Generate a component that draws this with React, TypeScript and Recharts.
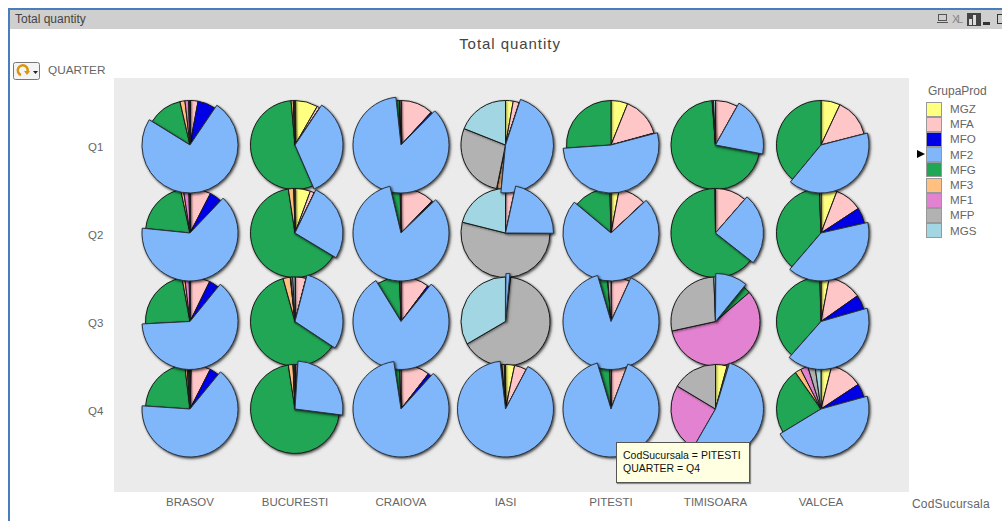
import { PieChart, Pie, Cell } from 'recharts';

const GROUPS = ['MGZ', 'MFA', 'MFO', 'MF2', 'MFG', 'MF3', 'MF1', 'MFP', 'MGS'];
const BRANCHES = ['BRASOV', 'BUCURESTI', 'CRAIOVA', 'IASI', 'PITESTI', 'TIMISOARA', 'VALCEA'];
const QUARTERS = ['Q1', 'Q2', 'Q3', 'Q4'];

// share per quarter, in the same order as GROUPS
const BRASOV = [
  [0.2, 2.7, 6.5, 74, 12.5, 1.8, 1.3, 0.4, 0.1],
  [0.1, 7.5, 4.5, 64.5, 20, 1, 2, 0.3, 0.1],
  [0.1, 7.2, 3.6, 63.5, 23, 1, 1.6, 0.3, 0],
  [0.5, 7, 3.4, 65, 22, 0.8, 0.5, 0.4, 0.2],
];
const BUCURESTI = [
  [8.3, 1, 0.05, 34, 55, 0.8, 0.2, 0.3, 0.1],
  [5.6, 1.5, 0.05, 26.5, 64, 2, 0.1, 0.3, 0],
  [0.2, 3.8, 0.05, 30.3, 61.4, 2.6, 0.2, 0.7, 0.8],
  [0.3, 0.7, 0, 26, 70.5, 1.7, 0.1, 0.5, 0.1],
];
const CRAIOVA = [
  [0.1, 11.7, 0.6, 85.8, 1.2, 0.1, 0, 0.4, 0],
  [0, 12.2, 0.6, 83.3, 3.4, 0, 0, 0.3, 0],
  [0, 10.2, 0.6, 80.3, 8.3, 0.05, 0, 0.4, 0],
  [0, 10.5, 1.2, 85.8, 1.9, 0, 0, 0.5, 0],
];
const IASI = [
  [2.8, 2.2, 0.05, 46.5, 0.05, 1.6, 0.05, 27.8, 19],
  [0.1, 3.3, 0, 21.7, 0, 0, 0, 53.9, 21.1],
  [0.05, 0.1, 0, 1.3, 0.1, 0.1, 0.2, 64.7, 33.4],
  [3.3, 4.4, 0, 90.5, 0.5, 0, 0, 0.9, 0.4],
];
const PITESTI = [
  [6.1, 14.6, 0.2, 53, 26.1, 0, 0, 0, 0],
  [3, 10, 0.1, 73, 13.5, 0, 0, 0.4, 0],
  [0.1, 6.7, 0, 88.5, 3.2, 0.1, 0, 1.2, 0],
  [0.1, 5.6, 0, 89.5, 4.1, 0, 0, 0.5, 0],
];
const TIMISOARA = [
  [0, 8.1, 0, 19.8, 70.6, 0.2, 0, 0.3, 0.7],
  [0, 11.4, 0, 24.2, 64.2, 0, 0, 0.2, 0],
  [0, 0.1, 0, 10.8, 2.8, 0, 57.8, 27.8, 0.6],
  [4.2, 0.5, 0, 53.6, 0, 0, 25.3, 16.4, 0],
];
const VALCEA = [
  [7, 14, 0, 40, 39, 0, 0, 0, 0],
  [5.8, 9.9, 5.7, 39.7, 38, 0, 0, 0.6, 0],
  [3, 12.2, 5.3, 40.9, 38, 0, 0, 0.4, 0],
  [3.9, 11.8, 5, 45.6, 24, 2.2, 2.7, 2.6, 2.2],
];
const SHARES = [BRASOV, BUCURESTI, CRAIOVA, IASI, PITESTI, TIMISOARA, VALCEA];

const COLORS: Record<string, string> = {
  MGZ: '#ffff80',
  MFA: '#ffc6c8',
  MFO: '#0000e6',
  MF2: '#80b6fa',
  MFG: '#20a654',
  MF3: '#ffc080',
  MF1: '#e282d0',
  MFP: '#b2b2b2',
  MGS: '#a2d6e2',
};
const POPPED = 'MF2';

const COL_X = [190, 295, 401, 505.5, 611, 715.5, 821];
const ROW_Y = [145, 233, 321.5, 409];
const RADIUS = 44.5;
const POPPED_RADIUS = 48;

const FONT = '"Liberation Sans", Arial, sans-serif';
const GREY = '#666';

function sliceData(values: number[]) {
  return GROUPS.map((name, i) => ({ name, value: values[i] })).filter((d) => d.value > 0);
}

function App() {
  const cells = SHARES.flatMap((branch, c) =>
    branch.map((values, r) => ({ id: `${c}-${r}`, cx: COL_X[c], cy: ROW_Y[r], data: sliceData(values) })),
  );

  const label = (text: string, left: number, top: number, extra: object = {}) => (
    <div key={text} style={{ position: 'absolute', left, top, color: GREY, fontSize: 12, lineHeight: '14px', whiteSpace: 'nowrap', ...extra }}>
      {text}
    </div>
  );

  return (
    <div style={{ position: 'absolute', left: 0, top: 0, width: 1002, height: 521, overflow: 'hidden', background: '#fff', fontFamily: FONT }}>
      <style>{`.pie-shadow { filter: drop-shadow(1.5px 1.5px 1px rgba(0,0,0,0.42)); }`}</style>

      {/* window frame and caption */}
      <div style={{ position: 'absolute', left: 8, top: 8, width: 1000, height: 520, borderLeft: '2px solid #4a7ebb', borderTop: '2px solid #4a7ebb' }} />
      <div style={{ position: 'absolute', left: 10, top: 10, width: 992, height: 19, background: '#cfcfcf' }} />
      {label('Total quantity', 15, 12, { color: '#444' })}

      <svg width={68} height={16} style={{ position: 'absolute', left: 936, top: 11 }}>
        <rect x={2.5} y={3.5} width={8} height={6} fill="none" stroke="#555" />
        <line x1={1} y1={11.5} x2={12} y2={11.5} stroke="#555" />
        <text x={16} y={12} fontSize={11} fill="#888" fontFamily={FONT} textLength={11}>XL</text>
        <rect x={31} y={2} width={14} height={13} fill="#444" />
        <rect x={33} y={8} width={3} height={6} fill="#ddd" />
        <rect x={37} y={4} width={3} height={10} fill="#ddd" />
        <rect x={47} y={11} width={7} height={3} fill="#333" />
        <rect x={61.5} y={3.5} width={8} height={9} fill="none" stroke="#333" />
      </svg>

      <div style={{ position: 'absolute', left: 10, width: 1000, top: 35, textAlign: 'center', color: '#444', fontSize: 15, letterSpacing: 0.95, lineHeight: '17px' }}>
        Total quantity
      </div>

      {/* cycle group button */}
      <svg width={28} height={19} style={{ position: 'absolute', left: 13, top: 62 }}>
        <rect x={0.5} y={0.5} width={26} height={17} rx={2} fill="#f4f4f4" stroke="#777" />
        <path d="M8 13 A5 5 0 1 1 14 11" fill="none" stroke="#d9950f" strokeWidth={2.5} />
        <path d="M11 9 L17 9 L14 13 Z" fill="#d9950f" />
        <path d="M20 9 L25 9 L22.5 12 Z" fill="#222" />
      </svg>
      {label('QUARTER', 48, 63, { fontSize: 11.8 })}

      {/* plot area */}
      <div style={{ position: 'absolute', left: 114, top: 78, width: 795, height: 414, background: '#ebebeb' }} />

      {QUARTERS.map((q, r) => label(q, 88, ROW_Y[r] - 5.5, { fontSize: 11.5 }))}
      {BRANCHES.map((b, c) => (
        <div key={b} style={{ position: 'absolute', left: COL_X[c] - 50, width: 100, top: 495, textAlign: 'center', color: GREY, fontSize: 11.5, lineHeight: '14px' }}>
          {b}
        </div>
      ))}
      {label('CodSucursala', 912, 497, { letterSpacing: 0.2 })}

      <div style={{ position: 'absolute', left: 0, top: 0 }}>
        <PieChart width={1002} height={521} margin={{ top: 0, right: 0, bottom: 0, left: 0 }}>
          {cells.map((cell) => (
            <Pie
              key={cell.id}
              data={cell.data}
              dataKey="value"
              nameKey="name"
              cx={cell.cx}
              cy={cell.cy}
              innerRadius={0}
              outerRadius={RADIUS}
              startAngle={90}
              endAngle={-270}
              className="pie-shadow"
              stroke="#1a1a1a"
              strokeWidth={1}
              isAnimationActive={false}
              legendType="none"
            >
              {cell.data.map((d) => (
                <Cell key={d.name} fill={COLORS[d.name]} />
              ))}
            </Pie>
          ))}
          {/* highlighted group sits above everything with a larger radius */}
          {cells.map((cell) => (
            <Pie
              key={`popped-${cell.id}`}
              data={cell.data}
              dataKey="value"
              nameKey="name"
              cx={cell.cx}
              cy={cell.cy}
              innerRadius={0}
              outerRadius={POPPED_RADIUS}
              startAngle={90}
              endAngle={-270}
              className="pie-shadow"
              isAnimationActive={false}
              legendType="none"
            >
              {cell.data.map((d) => (
                <Cell
                  key={d.name}
                  fill={d.name === POPPED ? COLORS[d.name] : 'none'}
                  stroke={d.name === POPPED ? '#2a3440' : 'none'}
                  strokeWidth={1}
                />
              ))}
            </Pie>
          ))}
        </PieChart>
      </div>

      {/* legend */}
      {label('GrupaProd', 928, 84)}
      <div style={{ position: 'absolute', left: 917, top: 150, width: 0, height: 0, borderLeft: '8px solid #000', borderTop: '4px solid transparent', borderBottom: '4px solid transparent' }} />
      {GROUPS.map((g, i) => (
        <div key={g}>
          <div style={{ position: 'absolute', left: 926, top: 101.5 + i * 15.2, width: 14, height: 13.2, background: COLORS[g], border: '1px solid #999' }} />
          {label(g, 950, 102 + i * 15.2, { fontSize: 11.6 })}
        </div>
      ))}

      {/* hover hint */}
      <div
        style={{
          position: 'absolute',
          left: 616,
          top: 442,
          width: 132,
          height: 39,
          background: '#ffffe1',
          border: '1px solid #555',
          boxShadow: '1px 1px 1px rgba(0,0,0,0.4)',
          color: '#111',
          fontSize: 10.5,
          lineHeight: '13px',
          whiteSpace: 'nowrap',
        }}
      >
        <div style={{ marginLeft: 6, marginTop: 6 }}>CodSucursala = PITESTI</div>
        <div style={{ marginLeft: 6 }}>QUARTER = Q4</div>
      </div>
    </div>
  );
}

export default App;
